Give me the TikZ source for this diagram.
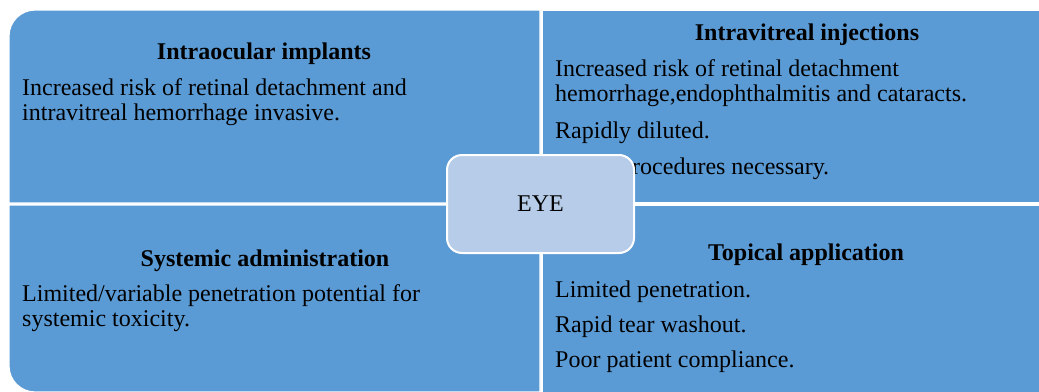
\documentclass[tikz,border=0pt]{standalone}
\usepackage{fontspec}
\setmainfont{Liberation Serif}
\definecolor{quadblue}{HTML}{5B9BD5}
\definecolor{eyeblue}{HTML}{B7CCE8}
\tikzset{%
  % Specifications for style of nodes:
        quad/.style = {fill=quadblue, draw=white, line width=1.2pt},
       title/.style = {anchor=base, inner sep=0pt,
                       font=\bfseries\fontsize{24}{25}\selectfont},
        body/.style = {anchor=base west, inner sep=0pt,
                       font=\fontsize{24}{25}\selectfont},
      eyebox/.style = {rectangle, rounded corners=15pt, draw=white,
                       line width=2pt, fill=eyeblue, minimum width=187pt,
                       minimum height=98pt, font=\fontsize{24}{25}\selectfont},
}

\begin{document}
\begin{tikzpicture}[x=1pt, y=-1pt]
  \clip (0,0) rectangle (1039,391);
  % Quadrants
  \draw[quad] (9,203) -- (9,36) .. controls (9,21.7) and (20.7,10) .. (35,10)
              -- (540,10) -- (540,203) -- cycle;
  \draw[quad] (542,10) rectangle (1048,203);
  \draw[quad] (9,205) -- (9,366) .. controls (9,380.3) and (20.7,392) .. (35,392)
              -- (540,392) -- (540,205) -- cycle;
  \draw[quad] (542,205) rectangle (1048,398);

  % Intraocular implants
  \node (iotitle) [title] at (264,59) {Intraocular implants};
  \node (io1)     [body]  at (22,95)  {Increased risk of retinal detachment and};
  \node (io2)     [body]  at (22,120) {intravitreal hemorrhage invasive.};

  % Intravitreal injections
  \node (ivtitle) [title] at (807,40)  {Intravitreal injections};
  \node (iv1)     [body]  at (555,76)  {Increased risk of retinal detachment};
  \node (iv2)     [body]  at (555,101) {hemorrhage,endophthalmitis and cataracts.};
  \node (iv3)     [body]  at (555,138) {Rapidly diluted.};
  \node (iv4)     [body]  at (620,174) {procedures necessary.};

  % Systemic administration
  \node (sytitle) [title] at (265,266) {Systemic administration};
  \node (sy1)     [body]  at (22,301)  {Limited/variable penetration potential for};
  \node (sy2)     [body]  at (22,326)  {systemic toxicity.};

  % Topical application
  \node (tptitle) [title] at (806,260) {Topical application};
  \node (tp1)     [body]  at (555,297) {Limited penetration.};
  \node (tp2)     [body]  at (555,332) {Rapid tear washout.};
  \node (tp3)     [body]  at (555,367) {Poor patient compliance.};

  % Centre
  \node (eye) [eyebox] at (540.5,204) {EYE};
\end{tikzpicture}
\end{document}
